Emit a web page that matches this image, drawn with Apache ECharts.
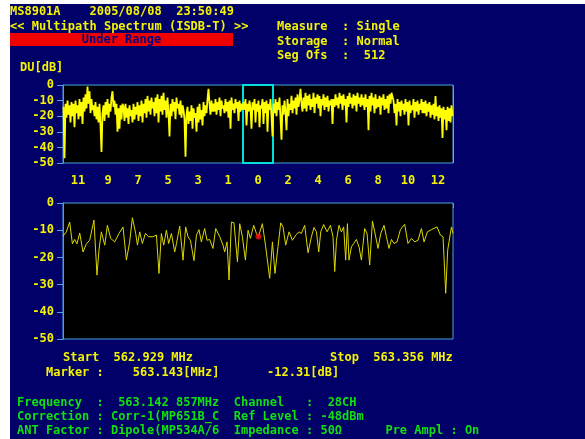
<!DOCTYPE html>
<html><head><meta charset="utf-8">
<script src="https://cdn.jsdelivr.net/npm/echarts@6/dist/echarts.min.js"></script>
<style>
html,body{margin:0;padding:0;background:#fff;}
#bg{position:absolute;left:10px;top:4px;width:575px;height:435px;background:#000068;}
#main{position:absolute;left:0;top:0;width:585px;height:439px;}
</style></head><body>
<div id="bg"></div><div id="main"></div>
<script>
// ---------- data ----------
const segLabels = ['11','9','7','5','3','1','0','2','4','6','8','10','12'];
// DU [dB] samples of the multipath spectrum, one array per segment (left to right)
const seg11 = [-14,-47,-12,-21,-10,-19,-13,-24,-11,-20,-12,-27,-10,-18,-13,-22,-9,-20,-11,-25,-8,-17,-6,-15,-1,-12,-4,-18,-9,-16];
const seg9  = [-13,-20,-11,-22,-14,-24,-12,-26,-43,-18,-13,-23,-11,-19,-9,-21,-12,-17,-8,-4,-14,-10,-19,-12,-30,-15,-28,-13,-22,-12];
const seg7  = [-14,-23,-12,-21,-15,-25,-13,-20,-16,-24,-12,-22,-14,-19,-11,-23,-13,-20,-10,-24,-12,-18,-9,-21,-7,-17,-10,-19,-8,-15];
const seg5  = [-11,-20,-8,-18,-6,-24,-9,-17,-7,-19,-5,-16,-10,-21,-8,-18,-33,-12,-20,-9,-17,-11,-22,-8,-15,-12,-19,-10,-21,-13];
const seg3  = [-16,-22,-46,-19,-14,-25,-17,-23,-13,-28,-15,-21,-18,-30,-14,-24,-12,-22,-16,-26,-11,-20,-13,-18,-9,-2.5,-12,-19,-10,-17];
const seg1  = [-12,-17,-9,-19,-11,-16,-8,-20,-10,-15,-13,-18,-9,-17,-11,-21,-10,-28,-8,-16,-12,-18,-9,-15,-11,-23,-10,-17,-12,-16];
const seg0  = [-11,-16,-9,-26,-12,-17,-10,-15,-28,-11,-16,-9,-24,-12,-17,-10,-27,-13,-15,-9,-25,-11,-18,-10,-30,-12,-16,-9,-20,-33];
const seg2  = [-12,-18,-9,-20,-11,-16,-8,-21,-35,-13,-19,-10,-17,-29,-9,-20,-12,-16,-7,-18,-10,-15,-8,-19,-6,-14,-9,-2.5,-12,-17];
const seg4  = [-8,-15,-5,-17,-7,-13,-6,-16,-9,-14,-5,-18,-8,-12,-6,-15,-7,-20,-9,-13,-6,-16,-8,-14,-7,-17,-10,-13,-9,-25];
const seg6  = [-9,-14,-6,-13,-8,-15,-5,-12,-7,-16,-6,-13,-9,-24,-7,-14,-5,-12,-8,-15,-6,-13,-7,-17,-5,-12,-8,-14,-6,-13];
const seg8  = [-8,-16,-6,-14,-9,-29,-7,-17,-5,-13,-8,-18,-6,-15,-9,-14,-7,-19,-8,-13,-6,-16,-9,-15,-7,-18,-6,-12,-5,-4];
const seg10 = [-10,-18,-12,-26,-9,-17,-11,-20,-10,-16,-12,-19,-9,-17,-11,-26,-10,-18,-13,-16,-9,-21,-11,-17,-10,-19,-12,-16,-9,-18];
const seg12 = [-11,-18,-10,-20,-12,-17,-11,-21,-13,-19,-12,-22,-7,-20,-14,-23,-13,-21,-15,-34,-14,-22,-16,-29,-14,-23,-15,-24,-13,-20];
const segments = [seg11,seg9,seg7,seg5,seg3,seg1,seg0,seg2,seg4,seg6,seg8,seg10,seg12];
const samplesPerSeg = 30;
const markedSeg = '0';

// delay profile trace: frequency [MHz] and DU [dB]
const startFreq = 562.929, stopFreq = 563.356;
const bottomFreq = [562.9290,562.9327,562.9363,562.9393,562.9418,562.9443,562.9473,562.9509,562.9546,562.9582,
562.9629,562.9662,562.9684,562.9710,562.9747,562.9776,562.9812,562.9856,562.9903,562.9947,
562.9984,563.0020,563.0050,563.0086,563.0105,563.0130,563.0159,563.0192,563.0228,563.0275,
563.0313,563.0341,563.0367,563.0393,563.0422,563.0447,563.0477,563.0513,563.0532,563.0568,
563.0604,563.0633,563.0659,563.0685,563.0724,563.0751,563.0779,563.0805,563.0841,563.0867,
563.0896,563.0932,563.0962,563.1006,563.1042,563.1060,563.1086,563.1108,563.1134,563.1162,
563.1200,563.1225,563.1254,563.1287,563.1316,563.1342,563.1378,563.1408,563.1430,563.1473,
563.1509,563.1553,563.1583,563.1611,563.1644,563.1674,563.1699,563.1728,563.1765,563.1802,
563.1838,563.1874,563.1900,563.1936,563.1973,563.2010,563.2038,563.2065,563.2090,563.2112,
563.2144,563.2181,563.2218,563.2246,563.2265,563.2284,563.2312,563.2338,563.2363,563.2385,
563.2404,563.2421,563.2448,563.2473,563.2502,563.2531,563.2557,563.2593,563.2619,563.2648,
563.2678,563.2703,563.2739,563.2769,563.2805,563.2831,563.2859,563.2886,563.2914,563.2947,
563.2984,563.3031,563.3067,563.3105,563.3141,563.3177,563.3214,563.3243,563.3280,563.3324,
563.3385,563.3422,563.3451,563.3480,563.3502,563.3543,563.3560];
const bottomDU = [-12.2,-10.6,-7.0,-15.0,-13.4,-15.0,-11.0,-18.0,-15.0,-13.7,
-6.3,-26.5,-17.3,-10.6,-15.5,-8.2,-13.0,-14.3,-11.2,-8.8,
-21.0,-14.3,-5.4,-11.2,-15.5,-10.6,-14.9,-11.2,-12.4,-12.4,
-11.8,-25.9,-11.2,-15.5,-10.0,-14.9,-11.2,-18.0,-15.0,-8.5,
-21.0,-8.8,-12.4,-13.7,-21.2,-11.8,-9.8,-14.3,-9.4,-13.7,
-13.4,-16.7,-9.4,-12.4,-15.5,-18.0,-14.3,-28.3,-7.0,-7.3,
-21.6,-7.6,-12.4,-21.0,-10.0,-13.0,-8.2,-11.2,-12.31,-7.6,
-16.0,-27.7,-14.3,-25.9,-16.0,-7.3,-8.8,-15.5,-10.6,-13.7,
-11.8,-10.6,-11.2,-8.2,-18.3,-12.4,-9.0,-10.6,-18.0,-10.6,
-7.9,-10.6,-8.2,-12.4,-25.2,-13.7,-8.2,-10.6,-8.8,-21.0,
-7.6,-21.0,-16.1,-14.9,-13.4,-16.1,-21.0,-9.4,-11.2,-22.8,
-6.6,-10.6,-16.7,-11.2,-8.2,-12.4,-16.7,-13.4,-14.9,-14.3,
-9.8,-7.8,-14.9,-13.0,-14.3,-13.7,-9.4,-14.3,-10.6,-9.8,
-8.8,-11.8,-12.4,-33.2,-17.3,-8.8,-11.2];
const markerFreq = 563.143, markerDU = -12.31;

// text
const headerLines = ['MS8901A    2005/08/08  23:50:49', '<< Multipath Spectrum (ISDB-T) >>'];
const statusLabel = 'Under Range';
const settingLines = ['Measure  : Single', 'Storage  : Normal', 'Seg Ofs  :  512'];
const yTitle = 'DU[dB]';
const startText = 'Start  ' + startFreq.toFixed(3) + ' MHz';
const stopText = 'Stop  ' + stopFreq.toFixed(3) + ' MHz';
const markerText = 'Marker :    ' + markerFreq.toFixed(3) + '[MHz]';
const markerLevelText = markerDU.toFixed(2) + '[dB]';
const infoLines = [
  'Frequency  :  563.142 857MHz  Channel   :  28CH',
  'Correction : Corr-1(MP651B_C  Ref Level : -48dBm',
  'ANT Factor : Dipole(MP534A/6  Impedance : 50\u03a9      Pre Ampl : On'
];

// ---------- chart ----------
const YEL = '#f4f400', GRN = '#10e010', AX = '#4aa3d8', GRID = '#58b0dc';
const FF = '"DejaVu Sans Mono", "Liberation Mono", monospace';
const topData = [];
segments.forEach((s, si) => s.forEach((v, j) => topData.push([si * samplesPerSeg + j + 0.5, v])));
const markIdx = segLabels.indexOf(markedSeg);

function txt(x, y, s, color, align) {
  return {type: 'text', x: x, y: y, scaleX: 0.923, z: 10,
    style: {text: s, fill: color, font: 'bold 13px ' + FF, align: align || 'left', verticalAlign: 'middle'}};
}
const yAxisCommon = {
  type: 'value', min: -50, max: 0, interval: 10,
  axisLine: {show: true, lineStyle: {color: AX}},
  axisTick: {show: true, length: 6, lineStyle: {color: AX}},
  splitLine: {show: false},
  axisLabel: {color: YEL, fontFamily: FF, fontWeight: 'bold', fontSize: 12, margin: 9}
};
const graphics = [
  txt(10, 12, headerLines[0], YEL),
  txt(10, 26.5, headerLines[1], YEL),
  {type: 'rect', shape: {x: 10, y: 33, width: 223, height: 13}, style: {fill: '#f00000'}, z: 9},
  txt(121.5, 39.5, statusLabel, '#000080', 'center'),
  txt(277, 26.5, settingLines[0], YEL),
  txt(277, 41.5, settingLines[1], YEL),
  txt(277, 55.5, settingLines[2], YEL),
  txt(20, 68, yTitle, YEL),
  txt(63, 358, startText, YEL),
  txt(330, 358, stopText, YEL),
  txt(46, 373, markerText, YEL),
  txt(267, 373, markerLevelText, YEL),
  txt(17, 403, infoLines[0], GRN),
  txt(17, 417, infoLines[1], GRN),
  txt(17, 431, infoLines[2], GRN)
];

const chart = echarts.init(document.getElementById('main'), null, {renderer: 'canvas'});
chart.setOption({
  animation: false,
  backgroundColor: 'transparent',
  grid: [
    {left: 63, top: 85, width: 390, height: 78, show: true, backgroundColor: '#000', borderColor: AX, borderWidth: 1, containLabel: false},
    {left: 63, top: 203, width: 390, height: 136, show: true, backgroundColor: '#000', borderColor: AX, borderWidth: 1, containLabel: false}
  ],
  xAxis: [
    {gridIndex: 0, type: 'value', min: 0, max: segments.length * samplesPerSeg, interval: samplesPerSeg,
     axisLine: {show: false}, axisLabel: {show: false},
     axisTick: {show: true, customValues: [0, segments.length * samplesPerSeg], length: 5, lineStyle: {color: AX}},
     splitLine: {show: true, lineStyle: {color: GRID, width: 1}}},
    {gridIndex: 0, type: 'category', data: segLabels, boundaryGap: true, position: 'bottom',
     axisLine: {show: false}, axisTick: {show: false}, splitLine: {show: false},
     axisLabel: {color: YEL, fontFamily: FF, fontWeight: 'bold', fontSize: 12, margin: 12, interval: 0}},
    {gridIndex: 1, type: 'value', min: startFreq, max: stopFreq,
     axisLine: {show: false}, axisLabel: {show: false}, splitLine: {show: false},
     axisTick: {show: true, customValues: [startFreq, stopFreq], length: 5, lineStyle: {color: AX}}}
  ],
  yAxis: [
    Object.assign({gridIndex: 0}, yAxisCommon),
    Object.assign({gridIndex: 1}, yAxisCommon)
  ],
  series: [
    {type: 'line', xAxisIndex: 0, yAxisIndex: 0, data: topData, showSymbol: false, silent: true,
     lineStyle: {color: '#ffff00', width: 1.8},
     markArea: {silent: true, itemStyle: {color: 'rgba(0,0,0,0)', borderColor: '#00dede', borderWidth: 2},
       data: [[{xAxis: markIdx * samplesPerSeg}, {xAxis: (markIdx + 1) * samplesPerSeg}]]}},
    {type: 'line', xAxisIndex: 2, yAxisIndex: 1, data: bottomFreq.map((f, i) => [f, bottomDU[i]]),
     showSymbol: false, silent: true, lineStyle: {color: '#dcd800', width: 1}},
    {type: 'scatter', xAxisIndex: 2, yAxisIndex: 1, data: [[markerFreq, markerDU]], symbol: 'circle', symbolSize: 6,
     itemStyle: {color: '#ff1010'}, silent: true, z: 5}
  ],
  graphic: graphics
});
</script>
</body></html>
